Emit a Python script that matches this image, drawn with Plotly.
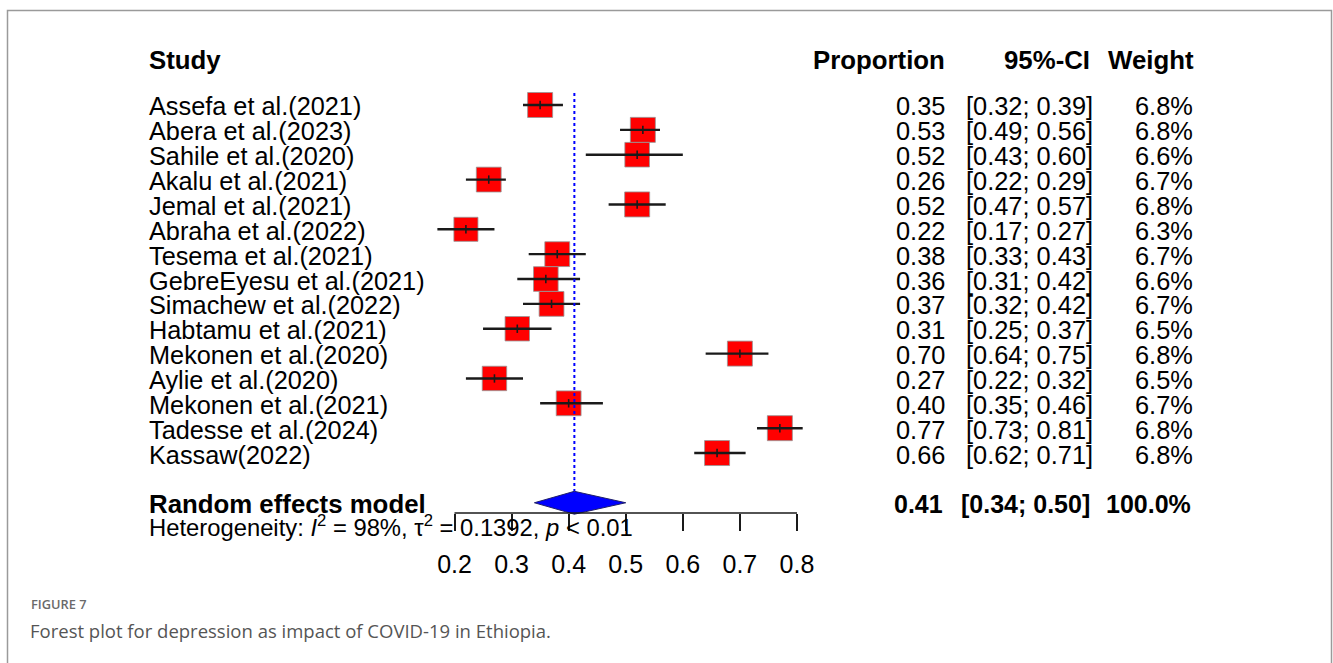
import math
import plotly.graph_objects as go

# ---- study data -------------------------------------------------------------
studies = [
    "Assefa et al.(2021)", "Abera et al.(2023)", "Sahile et al.(2020)",
    "Akalu et al.(2021)", "Jemal et al.(2021)", "Abraha et al.(2022)",
    "Tesema et al.(2021)", "GebreEyesu et al.(2021)", "Simachew et al.(2022)",
    "Habtamu et al.(2021)", "Mekonen et al.(2020)", "Aylie et al.(2020)",
    "Mekonen et al.(2021)", "Tadesse et al.(2024)", "Kassaw(2022)",
]
proportion = [0.35, 0.53, 0.52, 0.26, 0.52, 0.22, 0.38, 0.36, 0.37, 0.31,
              0.70, 0.27, 0.40, 0.77, 0.66]
ci_lower = [0.32, 0.49, 0.43, 0.22, 0.47, 0.17, 0.33, 0.31, 0.32, 0.25,
            0.64, 0.22, 0.35, 0.73, 0.62]
ci_upper = [0.39, 0.56, 0.60, 0.29, 0.57, 0.27, 0.43, 0.42, 0.42, 0.37,
            0.75, 0.32, 0.46, 0.81, 0.71]
weight = [6.8, 6.8, 6.6, 6.7, 6.8, 6.3, 6.7, 6.6, 6.7, 6.5,
          6.8, 6.5, 6.7, 6.8, 6.8]

# pooled random-effects estimate
pooled = 0.41
pooled_lower = 0.34
pooled_upper = 0.50
pooled_weight = 100.0

# heterogeneity statistics
i2_percent = 98
tau2 = 0.1392
p_label = "&lt; 0.01"

tick_values = [0.2, 0.3, 0.4, 0.5, 0.6, 0.7, 0.8]
tick_labels = ["0.2", "0.3", "0.4", "0.5", "0.6", "0.7", "0.8"]

column_headers = ["Study", "Proportion", "95%-CI", "Weight"]
model_label = "Random effects model"
figure_label = "FIGURE 7"
caption = "Forest plot for depression as impact of COVID-19 in Ethiopia."

# ---- page geometry -----------------------------------------------------------
W, H = 1333, 663
PX_PER_UNIT = 570.8          # horizontal pixels per unit of proportion
TICK0_PX = 454.5             # pixel column of the first tick
ROW_GAP = 24.86              # pixels between study rows
ROW1_PX = 105.0              # pixel row of the first study
AXIS_PX = 513.0              # pixel row of the x axis line

x_range = [tick_values[0] - TICK0_PX / PX_PER_UNIT,
           tick_values[0] + (W - TICK0_PX) / PX_PER_UNIT]


def row_at(px):
    """Row coordinate for a pixel height on the page."""
    return 1 + (px - ROW1_PX) / ROW_GAP


def px_x(px):
    return px / W


def px_y(px):
    return 1 - px / H


rows = list(range(1, len(studies) + 1))
model_row = len(studies) + 2
FONT = "Liberation Sans, Arial, sans-serif"
FS_LABEL = 25.3
FS_NUM = 25.4
FS_BOLD = 25.8

fig = go.Figure()

# weighted squares
max_w = max(weight)
fig.add_trace(go.Scatter(
    x=proportion, y=rows, mode="markers",
    marker=dict(symbol="square", color="#ff0000", opacity=1,
                size=[25 * math.sqrt(w / max_w) for w in weight],
                line=dict(color="rgba(150,150,150,0.8)", width=1)),
    hoverinfo="skip", showlegend=False,
))

# confidence interval whiskers
cx, cy = [], []
for lo, hi, r in zip(ci_lower, ci_upper, rows):
    cx += [lo, hi, None]
    cy += [r, r, None]
fig.add_trace(go.Scatter(
    x=cx, y=cy, mode="lines",
    line=dict(color="#1a1a1a", width=2.4),
    hoverinfo="skip", showlegend=False,
))

# point-estimate ticks inside the squares
fig.add_trace(go.Scatter(
    x=proportion, y=rows, mode="markers",
    marker=dict(symbol="line-ns", size=6, opacity=1,
                line=dict(color="#1a1a1a", width=1.6)),
    hoverinfo="skip", showlegend=False,
))

# pooled estimate reference line
fig.add_trace(go.Scatter(
    x=[pooled, pooled], y=[0.52, model_row - 0.45], mode="lines",
    line=dict(color="#0000ff", width=2, dash="dot"),
    hoverinfo="skip", showlegend=False,
))

# pooled diamond
dh = 0.46
fig.add_trace(go.Scatter(
    x=[pooled_lower, pooled, pooled_upper, pooled, pooled_lower],
    y=[model_row, model_row - dh, model_row, model_row + dh, model_row],
    mode="lines", fill="toself", fillcolor="#0000ff",
    line=dict(color="#20206a", width=1),
    hoverinfo="skip", showlegend=False,
))

# ---- text columns --------------------------------------------------------------
ann = []


def text(x_px, y_row, s, anchor, bold=False, size=FS_NUM, yref="y"):
    ann.append(dict(
        x=px_x(x_px), xref="paper", y=y_row, yref=yref,
        text=f"<b>{s}</b>" if bold else s, showarrow=False,
        xanchor=anchor, yanchor="middle",
        font=dict(family=FONT, size=size, color="#000000"),
    ))


STUDY_X, PROP_R, CI_R, W_R = 146.5, 946.5, 1094.5, 1195.0
head_row = row_at(60)
text(STUDY_X, head_row, column_headers[0], "left", bold=True, size=FS_BOLD)
text(PROP_R, head_row, column_headers[1], "right", bold=True, size=FS_BOLD)
text(CI_R - 3, head_row, column_headers[2], "right", bold=True, size=FS_BOLD)
text(W_R + 1, head_row, column_headers[3], "right", bold=True, size=FS_BOLD)

for s, p, lo, hi, w, r in zip(studies, proportion, ci_lower, ci_upper, weight, rows):
    yr = r + 0.06
    text(STUDY_X, yr, s, "left", size=FS_LABEL)
    text(PROP_R, yr, f"{p:.2f}", "right")
    text(CI_R, yr, f"[{lo:.2f}; {hi:.2f}]", "right")
    text(W_R, yr, f"{w:.1f}%", "right")

model_text_row = row_at(504)
text(STUDY_X, model_text_row, model_label, "left", bold=True, size=FS_BOLD)
text(PROP_R - 2, model_text_row, f"{pooled:.2f}", "right", bold=True, size=25)
text(CI_R - 3, model_text_row, f"[{pooled_lower:.2f}; {pooled_upper:.2f}]", "right",
     bold=True, size=25)
text(W_R - 2, model_text_row, f"{pooled_weight:.1f}%", "right", bold=True, size=25)

het = (f"Heterogeneity: <i>I</i><sup>2</sup> = {i2_percent}%, "
       f"τ<sup>2</sup> = {tau2:.4f}, <i>p</i> {p_label}")
text(STUDY_X, row_at(526), het, "left", size=23.8)

# caption below the figure
ann.append(dict(
    x=px_x(29), xref="paper", y=px_y(604), yref="paper",
    text=figure_label, showarrow=False, xanchor="left", yanchor="middle",
    font=dict(family="Open Sans, sans-serif", size=12.8, color="#6a6a6a", weight=600),
))
ann.append(dict(
    x=px_x(28), xref="paper", y=px_y(630), yref="paper",
    text=caption, showarrow=False, xanchor="left", yanchor="middle",
    font=dict(family="Open Sans, sans-serif", size=18.5, color="#555555"),
))

axis_pos = 1 - AXIS_PX / H
shapes = [
    # x axis baseline spanning the tick range
    dict(type="line", xref="x", yref="paper",
         x0=tick_values[0], x1=tick_values[-1], y0=axis_pos, y1=axis_pos,
         line=dict(color="#1a1a1a", width=1.6)),
    # frame around the figure panel
    dict(type="rect", xref="paper", yref="paper",
         x0=px_x(7.5), x1=px_x(1331.5), y0=-0.05, y1=px_y(10.5),
         line=dict(color="#9a9a9a", width=1.5), fillcolor="rgba(0,0,0,0)"),
]

fig.update_layout(
    width=W, height=H,
    margin=dict(l=0, r=0, t=0, b=0),
    paper_bgcolor="#ffffff", plot_bgcolor="#ffffff",
    showlegend=False,
    annotations=ann, shapes=shapes,
    xaxis=dict(
        range=x_range, domain=[0, 1], anchor="free", position=axis_pos,
        tickmode="array", tickvals=tick_values, ticktext=tick_labels,
        ticks="outside", ticklen=17, tickwidth=1.6, tickcolor="#1a1a1a",
        ticklabelstandoff=12,
        tickfont=dict(family=FONT, size=25, color="#000000"),
        showgrid=False, zeroline=False, showline=False, fixedrange=True,
    ),
    yaxis=dict(
        range=[row_at(H), row_at(0)], domain=[0, 1],
        showticklabels=False, ticks="", showgrid=False, zeroline=False,
        showline=False, fixedrange=True,
    ),
)

fig.write_html("out.html", config={"displayModeBar": False})
